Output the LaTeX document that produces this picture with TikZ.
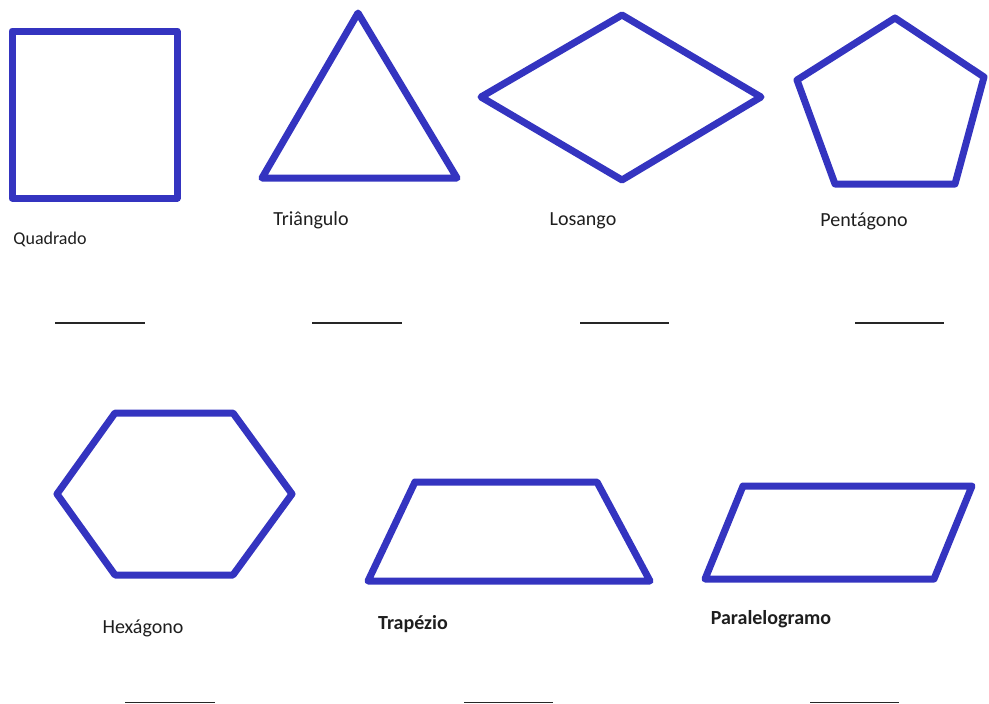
\documentclass[tikz,border=0pt]{standalone}
\usepackage{fontspec}
\setmainfont{Carlito}
\definecolor{shapeblue}{RGB}{52,52,192}
\definecolor{labelgray}{RGB}{30,30,30}
\begin{document}
\begin{tikzpicture}[x=1pt,y=-1pt,
  shp/.style={draw=shapeblue,line width=7pt,line join=round},
  lbl/.style={inner sep=0pt,text=labelgray,font=\fontsize{20}{22}\selectfont},
  blbl/.style={lbl,font=\fontsize{20}{22}\selectfont\bfseries},
  blank/.style={draw=black!85,line width=1.8pt}]
\useasboundingbox (0,0) rectangle (989,704);
% shapes
\draw[shp] (12,31) rectangle (177,198);
\draw[shp] (358,13) -- (457,178) -- (262,178) -- cycle;
\draw[shp] (622,15) -- (761,97) -- (622,180) -- (481,97) -- cycle;
\draw[shp] (895,18) -- (984,77) -- (955,184) -- (835,184) -- (797,80) -- cycle;
\draw[shp] (115,413) -- (233,413) -- (292,494) -- (233,575) -- (115,575) -- (57,494) -- cycle;
\draw[shp] (415,482) -- (597,482) -- (650,581) -- (368,581) -- cycle;
\draw[shp] (743,486) -- (972,486) -- (934,579) -- (705,579) -- cycle;
% labels
\node[lbl,font=\fontsize{18}{20}\selectfont] (quad) at (50,239) {Quadrado};
\node[lbl] (tri) at (311,220) {Triângulo};
\node[lbl] (los) at (583,221) {Losango};
\node[lbl] (pent) at (864,221) {Pentágono};
\node[lbl] (hex) at (143,628) {Hexágono};
\node[blbl] (trap) at (413,624) {Trapézio};
\node[blbl] (para) at (771,619) {Paralelogramo};
% answer blanks
\coordinate (b1a) at (55,323); \coordinate (b1b) at (145,323);
\coordinate (b2a) at (312,323); \coordinate (b2b) at (402,323);
\coordinate (b3a) at (580,323); \coordinate (b3b) at (669,323);
\coordinate (b4a) at (855,323); \coordinate (b4b) at (944,323);
\coordinate (b5a) at (125,702.5); \coordinate (b5b) at (215,702.5);
\coordinate (b6a) at (464,702.5); \coordinate (b6b) at (553,702.5);
\coordinate (b7a) at (810,702.5); \coordinate (b7b) at (899,702.5);
\foreach \i in {1,...,7} {\draw[blank] (b\i a) -- (b\i b);}
\end{tikzpicture}
\end{document}
